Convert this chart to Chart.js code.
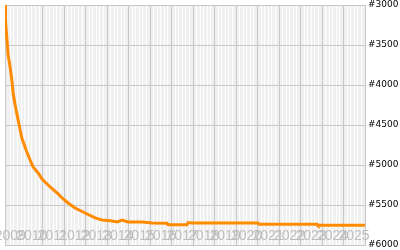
<!DOCTYPE html>
<html>
<head>
<meta charset="utf-8">
<script src="https://cdn.jsdelivr.net/npm/chart.js@4"></script>
<style>
  body { margin: 0; background: #fff; }
</style>
</head>
<body>
<canvas id="chart" width="400" height="250"></canvas>
<script>
// rank history, x = decimal year, y = rank
var dates = [2009.25, 2009.27, 2009.335, 2009.395, 2009.488, 2009.567, 2009.628, 2009.721, 2009.86, 2010.033,
             2010.265, 2010.419, 2010.558, 2010.791, 2010.977, 2011.349, 2011.721, 2011.907, 2012.186, 2012.512,
             2012.977, 2013.442, 2013.767, 2014.23, 2014.465, 2014.70, 2014.977, 2015.63, 2016.09, 2016.79,
             2016.84, 2017.72, 2017.77, 2017.95, 2021.02, 2021.07, 2023.77, 2023.81, 2026.0];
var ranks = [2950, 3188, 3412, 3625, 3775, 3938, 4100, 4250, 4438, 4662,
             4838, 4938, 5025, 5100, 5175, 5275, 5362, 5412, 5475, 5538,
             5600, 5662, 5688, 5700, 5712, 5688, 5712, 5712, 5725, 5729,
             5746, 5746, 5719, 5725, 5725, 5741, 5741, 5754, 5754];

var yearLabels = ['2009','2010','2011','2012','2013','2014','2015','2016','2017',
                  '2018','2019','2020','2021','2022','2023','2024','2025'];
var rankTicks = [3000, 3500, 4000, 4500, 5000, 5500, 6000];

var points = [];
for (var i = 0; i < dates.length; i++) {
    points.push({x: dates[i], y: ranks[i]});
}

var plotBg = {
    id: 'plotBg',
    beforeDraw: function(chart) {
        var a = chart.chartArea, ctx = chart.ctx;
        ctx.save();
        ctx.fillStyle = '#f0f0f0';
        ctx.fillRect(a.left, a.top, a.right - a.left, a.bottom - a.top);
        ctx.restore();
    },
    beforeDatasetsDraw: function(chart) {
        // year labels sit inside the plot, at the bottom
        var x = chart.scales.x, ctx = chart.ctx, a = chart.chartArea;
        ctx.save();
        ctx.font = '14px "Liberation Sans Narrow", "Arial Narrow", "Liberation Sans", sans-serif';
        ctx.fillStyle = '#bdbdbd';
        ctx.textAlign = 'left';
        ctx.textBaseline = 'alphabetic';
        for (var i = 0; i < yearLabels.length; i++) {
            var px = x.getPixelForValue(parseInt(yearLabels[i])) - 5;
            ctx.fillText(yearLabels[i], px, a.bottom - 5);
        }
        ctx.restore();
    }
};

var ctx = document.getElementById('chart').getContext('2d');
var chart = new Chart(ctx, {
    type: 'line',
    data: {
        datasets: [{
            data: points,
            borderColor: '#ff8c00',
            borderWidth: 3,
            pointRadius: 0,
            tension: 0,
            fill: false,
            clip: 0
        }]
    },
    options: {
        responsive: false,
        animation: false,
        layout: { padding: { left: 5, top: 5, bottom: 5, right: 0 } },
        plugins: { legend: { display: false }, tooltip: { enabled: false } },
        scales: {
            xMinor: {
                type: 'linear',
                position: 'bottom',
                min: 2009.25, max: 2026,
                z: -1,
                ticks: { display: false, stepSize: 1 / 6 },
                grid: { color: '#ffffff', drawTicks: false },
                border: { display: false }
            },
            x: {
                type: 'linear',
                position: 'bottom',
                min: 2009.25, max: 2026,
                ticks: { display: false, stepSize: 1 },
                grid: { color: '#c8c8c8', drawTicks: false },
                border: { color: '#c8c8c8' }
            },
            y: {
                position: 'right',
                reverse: true,
                min: rankTicks[0], max: rankTicks[rankTicks.length - 1],
                afterBuildTicks: function(scale) {
                    scale.ticks = rankTicks.map(function(v) { return {value: v}; });
                },
                afterFit: function(scale) {
                    scale.width = 35;
                    scale.paddingTop = 0;
                    scale.paddingBottom = 0;
                },
                ticks: {
                    padding: 3,
                    color: '#000',
                    font: { family: '"DejaVu Sans"', size: 9 },
                    callback: function(v) { return '#' + v; }
                },
                grid: { color: '#c8c8c8', drawTicks: false },
                border: { color: '#c8c8c8' }
            }
        }
    },
    plugins: [plotBg]
});
</script>
</body>
</html>
